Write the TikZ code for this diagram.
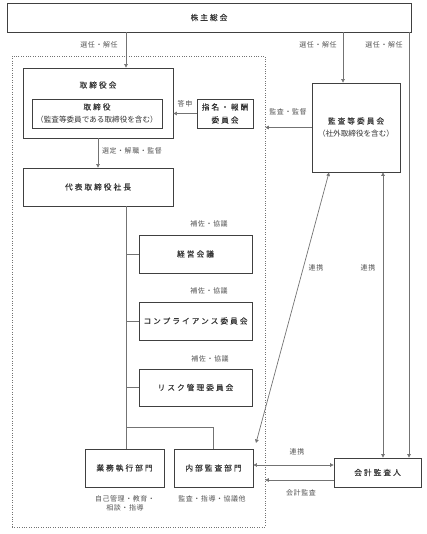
\documentclass[tikz,border=0pt]{standalone}
\usepackage{fontspec}
\setmainfont{Noto Sans CJK JP}
\newfontfamily\jp{Noto Sans CJK JP}
\newfontfamily\jpsp[LetterSpace=26,FakeBold=0.1]{Noto Sans CJK JP}
\newfontfamily\jplb[LetterSpace=8]{Noto Sans CJK JP}
\usetikzlibrary{arrows.meta,calc}
\definecolor{boxc}{gray}{0.25}
\definecolor{linec}{gray}{0.45}
\definecolor{txtc}{gray}{0.2}
\definecolor{lblc}{gray}{0.33}
\tikzset{
  box/.style={draw=boxc, line width=0.9pt, inner sep=0pt, align=center, text=txtc,
    font=\jpsp\fontsize{7.7}{13}\selectfont},
  plain/.style={inner sep=0pt, align=center, text=txtc, font=\jpsp\fontsize{7.7}{13}\selectfont},
  lbl/.style={inner sep=0pt, align=center, text=lblc, font=\jplb\fontsize{7}{9.3}\selectfont},
  ln/.style={draw=linec, line width=0.7pt},
  arr/.style={ln, -{Triangle[length=3.5pt,width=3.6pt]}},
  darr/.style={ln, {Triangle[length=3.5pt,width=3.6pt]}-{Triangle[length=3.5pt,width=3.6pt]}},
  frm/.style={draw=linec, line width=0.6pt, dash pattern=on 1pt off 1.4pt, inner sep=0pt}
}
\begin{document}
\begin{tikzpicture}[x=1pt,y=-1pt]
\useasboundingbox (0,0) rectangle (426,534);
% frame
\node[frm, minimum width=253pt, minimum height=471pt] (frame) at (138.5,291.5) {};
% boxes
\node[box, minimum width=404pt, minimum height=29pt] (sh) at (209,17.5) {株主総会};
\node[box, minimum width=150pt, minimum height=70pt] (tb) at (98,103) {};
\node[plain] (tbt) at (98,85) {取締役会};
\node[box, minimum width=130pt, minimum height=29pt] (td) at (97,113.5) {取締役\\{\jp\fontsize{7.6}{13}\selectfont （監査等委員である取締役を含む）}};
\node[box, minimum width=56pt, minimum height=29pt] (nc) at (225,113.5) {指名・報酬\\委員会};
\node[box, minimum width=88pt, minimum height=89pt] (ak) at (356,127.5) {監査等委員会\\{\jp\fontsize{7.6}{13}\selectfont （社外取締役を含む）}};
\node[box, minimum width=150pt, minimum height=38pt] (dp) at (98,187) {代表取締役社長};
\node[box, minimum width=113pt, minimum height=38pt] (c1) at (195.5,254) {経営会議};
\node[box, minimum width=113pt, minimum height=38pt] (c2) at (195.5,321) {コンプライアンス委員会};
\node[box, minimum width=113pt, minimum height=37pt] (c3) at (195.5,387.5) {リスク管理委員会};
\node[box, minimum width=79pt, minimum height=38pt] (gy) at (124.5,468) {業務執行部門};
\node[box, minimum width=79pt, minimum height=38pt] (nb) at (213.5,468) {内部監査部門};
\node[box, minimum width=87pt, minimum height=29pt] (ka) at (377.5,472.5) {会計監査人};
% helper coordinates
\coordinate (xA) at (126,0);
\coordinate (xB) at (343,0);
\coordinate (xC) at (409,0);
\coordinate (xE) at (329,0);
\coordinate (xF) at (383,0);
\coordinate (jn) at (0,427);
\coordinate (yL) at (0,465);
\coordinate (yK) at (0,480);
\coordinate (dend) at (256,443);
% connectors
\draw[arr] (xA |- sh.south) -- (xA |- tb.north);
\draw[arr] (xB |- sh.south) -- (xB |- ak.north);
\draw[arr] (xC |- sh.south) -- (xC |- ka.north);
\draw[arr] (nc.west) -- (tb.east |- nc.west);
\draw[arr] (ak.west) -- (ak.west -| frame.east);
\draw[arr] (tb.south) -- (dp.north);
\draw[ln] (xA |- dp.south) -- (xA |- gy.north);
\draw[ln] (xA |- jn) -| (nb.north);
\draw[ln] (xA |- c1.west) -- (c1.west);
\draw[ln] (xA |- c2.west) -- (c2.west);
\draw[ln] (xA |- c3.west) -- (c3.west);
\draw[darr] (nb.east |- yL) -- (ka.west |- yL);
\draw[arr] (ka.west |- yK) -- (frame.east |- yK);
\draw[darr] (xE |- ak.south) -- (dend);
\draw[darr] (xF |- ak.south) -- (xF |- ka.north);
% labels
\node[lbl] at (99,45) {選任・解任};
\node[lbl] at (318,45) {選任・解任};
\node[lbl] at (384,45) {選任・解任};
\node[lbl] at (185,104) {答申};
\node[lbl] at (288,112) {監査・監督};
\node[lbl] at (132,151) {選定・解職・監督};
\node[lbl] at (209,224) {補佐・協議};
\node[lbl] at (209,291) {補佐・協議};
\node[lbl] at (210,359) {補佐・協議};
\node[lbl] at (316,268) {連携};
\node[lbl] at (368,268) {連携};
\node[lbl] at (297,452) {連携};
\node[lbl] at (301,493) {会計監査};
\node[lbl] at (125,503.5) {自己管理・教育・\\相談・指導};
\node[lbl] at (212,499) {監査・指導・協議他};
\end{tikzpicture}
\end{document}
